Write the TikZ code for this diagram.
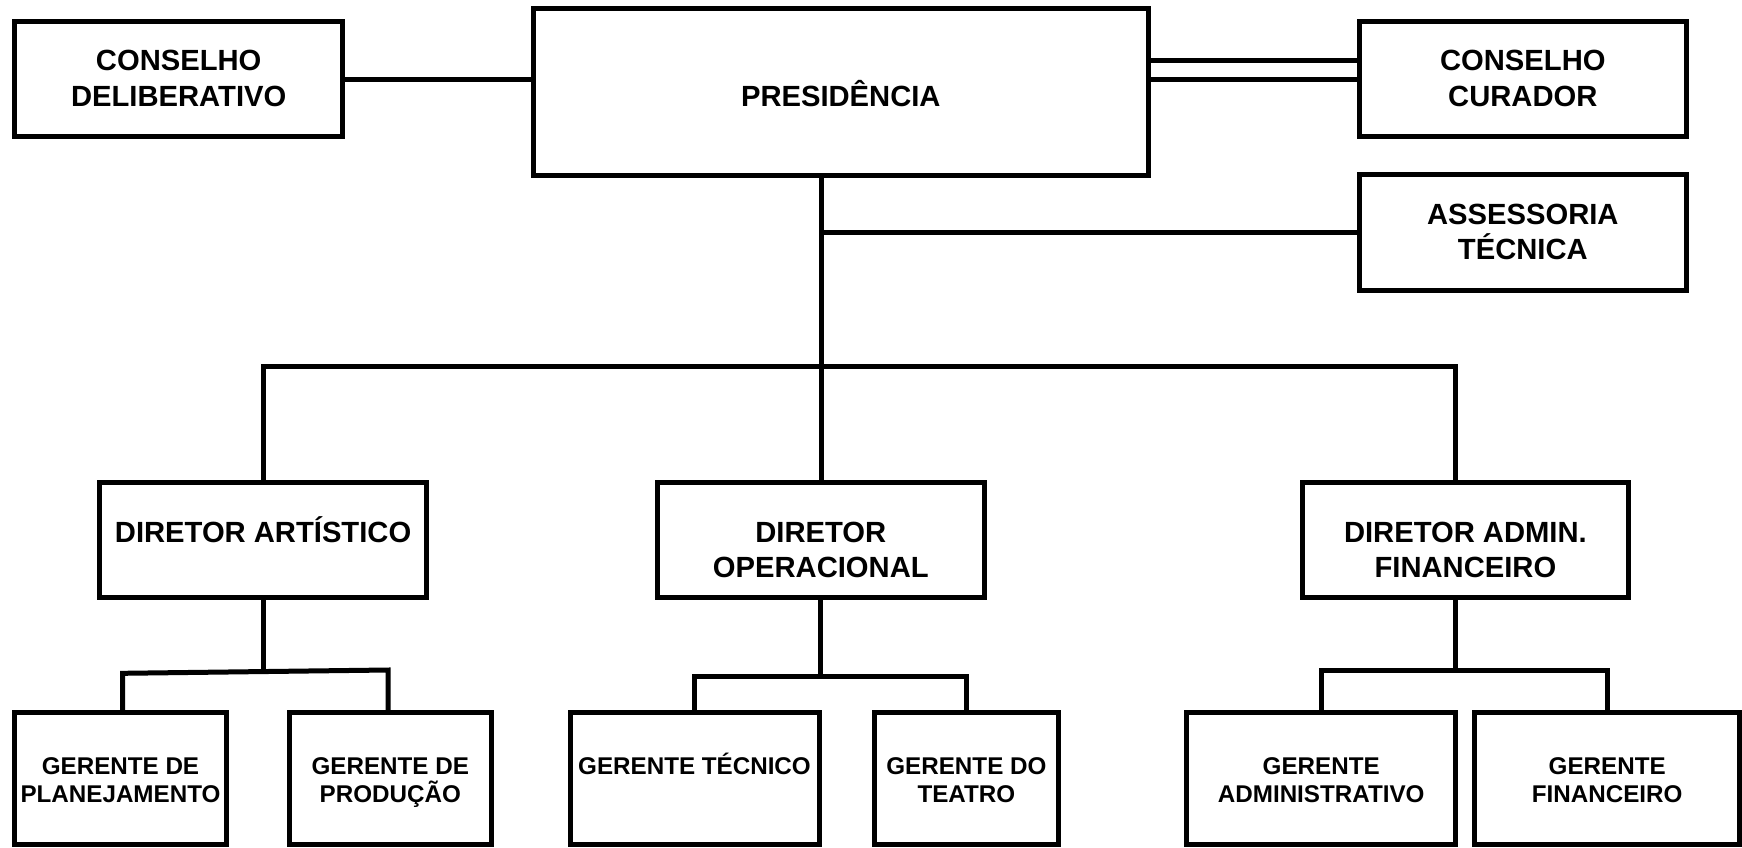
\documentclass[tikz,border=0pt]{standalone}
\usepackage{fontspec}
\setmainfont{Liberation Sans}
\begin{document}
\begin{tikzpicture}[x=1pt, y=-1pt,
  every node/.style={inner sep=0pt, outer sep=0pt},
  box/.style={draw, line width=5pt, align=center},
  bigtext/.style={font=\fontsize{29.2}{35.3}\selectfont\bfseries},
  smalltext/.style={font=\fontsize{24.2}{28.3}\selectfont\bfseries},
  % the text box is referenced on its last line, so its height sets where that line sits
  sidebox/.style={box, bigtext, minimum height=115.4pt, text height=54pt, text depth=0pt},
  presbox/.style={box, bigtext, text height=29pt, text depth=0pt},
  dirbox/.style={box, bigtext, minimum height=115.4pt, text height=74.6pt, text depth=0pt},
  mgrbox/.style={box, smalltext, minimum height=131.3pt, text height=48.6pt, text depth=0pt},
  conn/.style={line width=5pt}
]
\useasboundingbox (0,0) rectangle (1742,847);

% top level
\node[sidebox, minimum width=327.5pt] (cd) at (178.7,79) {CONSELHO\\DELIBERATIVO};
\node[presbox, minimum width=614.5pt, minimum height=167pt] (pres) at (840.8,91.5) {PRESIDÊNCIA};
\node[sidebox, minimum width=326.5pt] (cc) at (1522.8,79) {CONSELHO\\CURADOR};
\node[sidebox, minimum width=326.5pt] (at) at (1522.8,232.5) {ASSESSORIA\\TÉCNICA};

% directors
\node[dirbox, minimum width=327.2pt] (da) at (263.1,540) {DIRETOR ARTÍSTICO\\\mbox{}};
\node[dirbox, minimum width=327.2pt] (do) at (820.8,540) {DIRETOR\\OPERACIONAL};
\node[dirbox, minimum width=326.8pt] (daf) at (1465.4,540) {DIRETOR ADMIN.\\FINANCEIRO};

% managers
\node[mgrbox, minimum width=212pt] (gp) at (120.5,778.4) {GERENTE DE\\PLANEJAMENTO};
\node[mgrbox, minimum width=201.5pt] (gpr) at (390.3,778.4) {GERENTE DE\\PRODUÇÃO};
\node[mgrbox, minimum width=249pt] (gt) at (694.5,778.4) {GERENTE TÉCNICO\\\mbox{}};
\node[mgrbox, minimum width=183.7pt] (gdt) at (966.4,778.4) {GERENTE DO\\TEATRO};
\node[mgrbox, minimum width=269pt] (ga) at (1321.2,778.4) {GERENTE\\ADMINISTRATIVO};
\node[mgrbox, minimum width=264.7pt] (gf) at (1607.2,778.4) {GERENTE\\FINANCEIRO};

% junction points
\coordinate (ccup) at (1359.5,60);
\coordinate (spine) at (821.5,366.7);
\coordinate (dafin) at (1455.8,366.7);
\coordinate (daL) at (122.7,673.3);
\coordinate (daM) at (264.5,671.7);
\coordinate (daR) at (388,670);
\coordinate (doM) at (821.5,676);
\coordinate (dafM) at (1455.8,670);

% councils
\draw[conn] (cd.east) -- (cd.east -| pres.west);
\draw[conn] (cc.west) -- (cc.west -| pres.east);
\draw[conn] (ccup) -- (ccup -| pres.east);

% main spine and staff branch
\draw[conn] (spine |- pres.south) -- (spine |- do.north);
\draw[conn] (spine |- at.west) -- (at.west);

% directors bus
\draw[conn] (da.north) |- (dafin) -- (dafin |- daf.north);

% artistic branch
\draw[conn] (da.south) -- (da.south |- daM);
\draw[conn] (daL |- gp.north) -- (daL) -- (daR) -- (daR |- gpr.north);

% operational branch
\draw[conn] (do.south) -- (do.south |- doM);
\draw[conn] (gt.north) |- (doM) -| (gdt.north);

% admin/finance branch
\draw[conn] (dafM |- daf.south) -- (dafM);
\draw[conn] (ga.north) |- (dafM) -| (gf.north);
\end{tikzpicture}
\end{document}
